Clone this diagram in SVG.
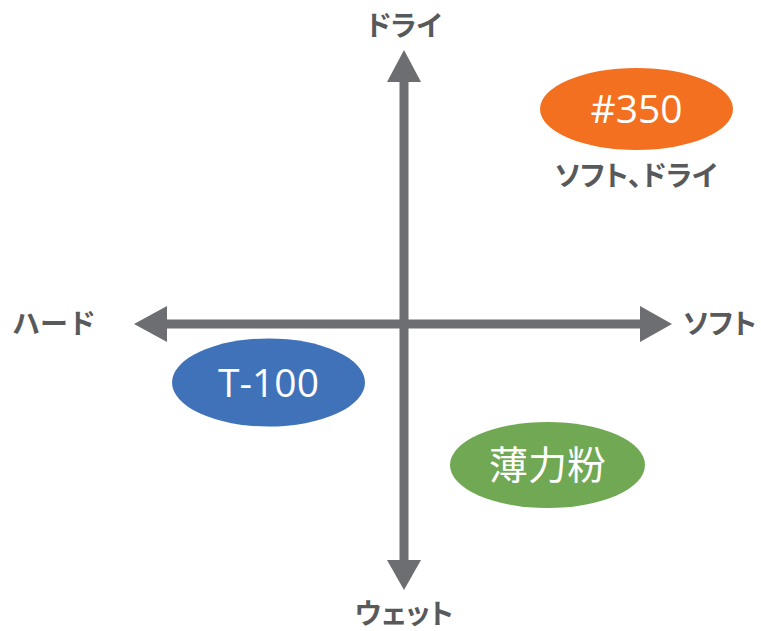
<svg xmlns="http://www.w3.org/2000/svg" width="761" height="631" viewBox="0 0 761 631">
<style>
.lbl{font-family:"Noto Sans CJK JP","Noto Sans",sans-serif;font-weight:bold;font-size:28px;fill:#58595b;font-feature-settings:"palt"}
.nt{font-family:"Open Sans","Noto Sans CJK JP",sans-serif;font-size:39px;fill:#ffffff;text-anchor:middle}
.ax{fill:#6d6e71}
</style>
<rect width="761" height="631" fill="#ffffff"/>
<g id="connectors">
<rect class="ax" x="399.5" y="78" width="9" height="486"/>
<rect class="ax" x="163" y="319.5" width="481" height="9"/>
<polygon class="ax" points="404,50 421,82 387,82"/>
<polygon class="ax" points="404,590 421,560 387,560"/>
<polygon class="ax" points="134,324 167,306 167,342"/>
<polygon class="ax" points="672,324 640,306 640,342"/>
</g>
<g id="label-dry"><text class="lbl" x="404" y="36" text-anchor="middle">ドライ</text></g>
<g id="label-wet"><text class="lbl" x="404" y="624" text-anchor="middle">ウェット</text></g>
<g id="label-hard"><text class="lbl" x="12" y="334" style="font-feature-settings:normal">ハード</text></g>
<g id="label-soft"><text class="lbl" x="683" y="334">ソフト</text></g>
<g id="node-350">
<ellipse cx="636.5" cy="109" rx="96.5" ry="41" fill="#f37021"/>
<text class="nt" x="636.5" y="123">#350</text>
<text class="lbl" x="636" y="186" text-anchor="middle">ソフト、ドライ</text>
</g>
<g id="node-t100">
<ellipse cx="268.5" cy="382.5" rx="96.5" ry="44" fill="#3f72b9"/>
<text class="nt" x="268.5" y="396.5">T-100</text>
</g>
<g id="node-hakurikiko">
<ellipse cx="547.5" cy="465" rx="97.5" ry="43" fill="#70a853"/>
<text class="nt" x="547.5" y="479" font-family="Noto Sans CJK JP, sans-serif">薄力粉</text>
</g>
</svg>
